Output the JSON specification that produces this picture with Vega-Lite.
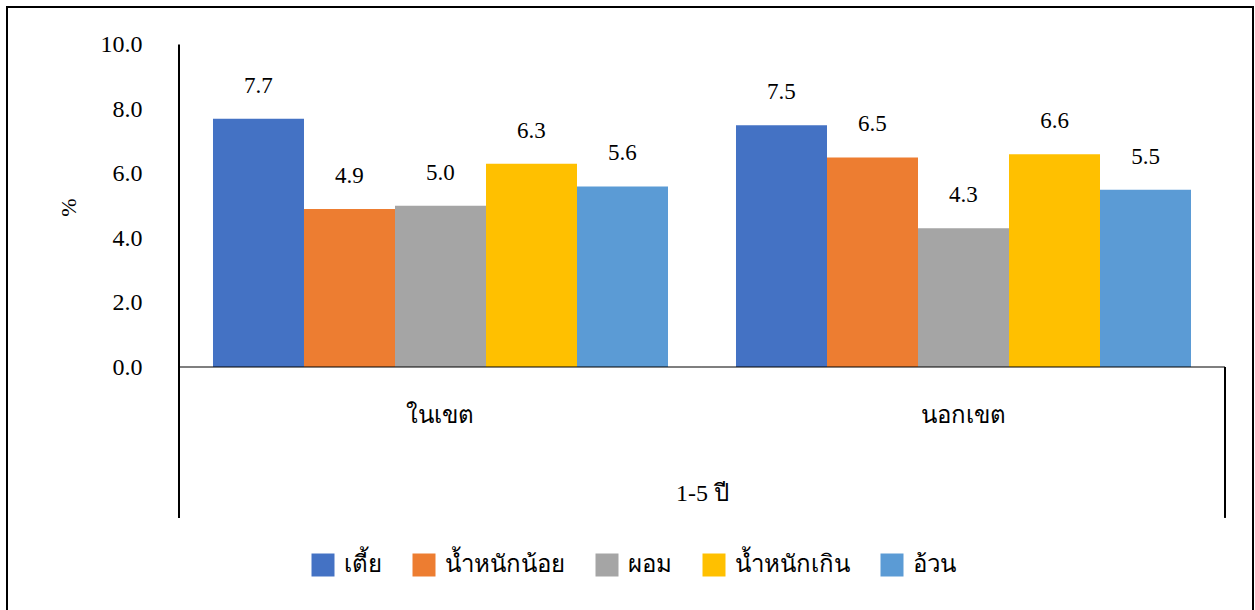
{
  "$schema": "https://vega.github.io/schema/vega-lite/v6.json",
  "width": 1246,
  "height": 604,
  "autosize": {"type": "none"},
  "padding": {"left": 7, "top": 7, "right": 2, "bottom": 0},
  "background": "#ffffff",
  "config": {
    "view": {"stroke": "#000000", "strokeWidth": 2},
    "font": "'Liberation Serif', 'DejaVu Serif', serif",
    "text": {"font": "'Liberation Serif', 'DejaVu Serif', serif"},
    "axis": {"labelFont": "'Liberation Serif', 'DejaVu Serif', serif", "titleFont": "'Liberation Serif', 'DejaVu Serif', serif", "labelColor": "#000000", "titleColor": "#000000", "titleFontWeight": "normal"},
    "legend": {"labelFont": "'Liberation Serif', 'DejaVu Serif', serif", "labelColor": "#000000"}
  },
  "data": {
    "values": [
      {"area": "ในเขต", "status": "เตี้ย", "pct": 7.7},
      {"area": "ในเขต", "status": "น้ำหนักน้อย", "pct": 4.9},
      {"area": "ในเขต", "status": "ผอม", "pct": 5.0},
      {"area": "ในเขต", "status": "น้ำหนักเกิน", "pct": 6.3},
      {"area": "ในเขต", "status": "อ้วน", "pct": 5.6},
      {"area": "นอกเขต", "status": "เตี้ย", "pct": 7.5},
      {"area": "นอกเขต", "status": "น้ำหนักน้อย", "pct": 6.5},
      {"area": "นอกเขต", "status": "ผอม", "pct": 4.3},
      {"area": "นอกเขต", "status": "น้ำหนักเกิน", "pct": 6.6},
      {"area": "นอกเขต", "status": "อ้วน", "pct": 5.5}
    ]
  },
  "encoding": {
    "x": {
      "field": "area",
      "type": "nominal",
      "sort": ["ในเขต", "นอกเขต"],
      "scale": {"domain": ["ในเขต", "นอกเขต"], "paddingInner": 0, "paddingOuter": 0.1912, "align": 0.86},
      "axis": {
        "orient": "bottom",
        "offset": -244,
        "domain": false,
        "ticks": false,
        "grid": false,
        "labelAngle": 0,
        "labelFontSize": 24,
        "labelBaseline": "middle",
        "labelPadding": 48,
        "title": "1-5 ปี",
        "titleFontSize": 24,
        "titleX": 695,
        "titleY": 126,
        "titleAlign": "center",
        "titleBaseline": "middle"
      }
    }
  },
  "layer": [
    {
      "mark": {"type": "bar"},
      "encoding": {
        "xOffset": {
          "field": "status",
          "type": "nominal",
          "sort": ["เตี้ย", "น้ำหนักน้อย", "ผอม", "น้ำหนักเกิน", "อ้วน"],
          "scale": {"paddingInner": 0, "paddingOuter": 0.3736}
        },
        "y": {
          "field": "pct",
          "type": "quantitative",
          "scale": {"domain": [-7.566, 11.163], "nice": false, "zero": false},
          "axis": {
            "orient": "left",
            "offset": -172,
            "domain": false,
            "ticks": false,
            "grid": false,
            "values": [0, 2, 4, 6, 8, 10],
            "format": ".1f",
            "labelFontSize": 24,
            "labelPadding": 37,
            "title": "%",
            "titleFontSize": 22,
            "titleX": -111,
            "titleY": 200,
            "titleAlign": "center",
            "titleBaseline": "middle"
          }
        },
        "y2": {"datum": 0},
        "color": {
          "field": "status",
          "type": "nominal",
          "scale": {
            "domain": ["เตี้ย", "น้ำหนักน้อย", "ผอม", "น้ำหนักเกิน", "อ้วน"],
            "range": ["#4472C4", "#ED7D31", "#A5A5A5", "#FFC000", "#5B9BD5"]
          },
          "legend": {
            "orient": "none",
            "legendX": 304,
            "legendY": 546,
            "direction": "horizontal",
            "title": null,
            "symbolType": "square",
            "symbolSize": 529,
            "symbolStrokeWidth": 0,
            "symbolOpacity": 1,
            "labelFontSize": 24,
            "labelOffset": 9,
            "columnPadding": 30,
            "padding": 0,
            "labelLimit": 400
          }
        }
      }
    },
    {
      "mark": {"type": "text", "baseline": "alphabetic", "dy": -26, "fontSize": 23, "color": "#000000"},
      "encoding": {
        "xOffset": {
          "field": "status",
          "type": "nominal",
          "sort": ["เตี้ย", "น้ำหนักน้อย", "ผอม", "น้ำหนักเกิน", "อ้วน"]
        },
        "y": {"field": "pct", "type": "quantitative"},
        "text": {"field": "pct", "type": "quantitative", "format": ".1f"}
      }
    },
    {
      "data": {"values": [{}]},
      "mark": {"type": "bar", "fill": null, "fillOpacity": 0, "stroke": "#000000", "strokeWidth": 1.2},
      "encoding": {
        "x": {"datum": "ในเขต", "type": "nominal"},
        "y": {"datum": 0},
        "y2": {"datum": 0}
      }
    },
    {
      "data": {"values": [{}]},
      "mark": {"type": "bar", "fill": null, "fillOpacity": 0, "stroke": "#000000", "strokeWidth": 1.2},
      "encoding": {
        "x": {"datum": "นอกเขต", "type": "nominal"},
        "y": {"datum": 0},
        "y2": {"datum": 0}
      }
    },
    {
      "data": {"values": [{}]},
      "mark": {"type": "rule", "color": "#000000", "strokeWidth": 2},
      "encoding": {
        "x": {"datum": "ในเขต", "type": "nominal", "bandPosition": 0},
        "y": {"datum": 10},
        "y2": {"datum": -4.68}
      }
    },
    {
      "data": {"values": [{}]},
      "mark": {"type": "rule", "color": "#000000", "strokeWidth": 2},
      "encoding": {
        "x": {"datum": "นอกเขต", "type": "nominal", "bandPosition": 1},
        "y": {"datum": 0},
        "y2": {"datum": -4.68}
      }
    }
  ]
}
